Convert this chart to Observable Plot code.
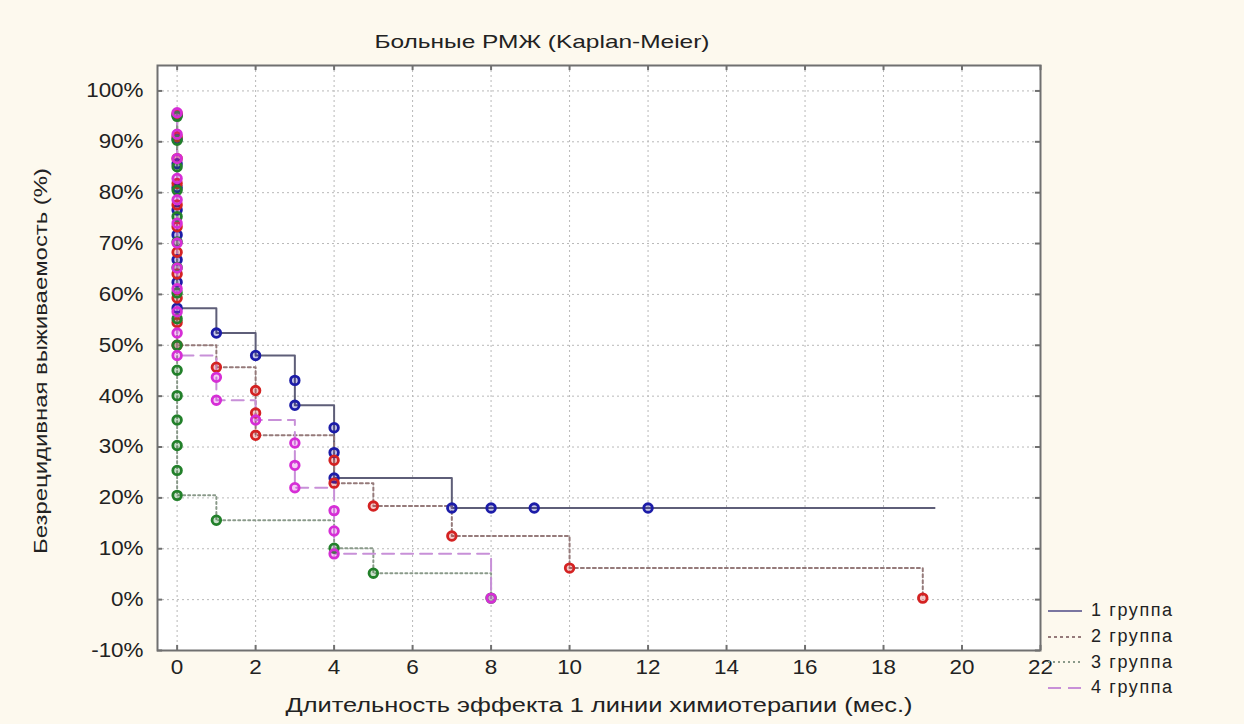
<!DOCTYPE html>
<html><head><meta charset="utf-8">
<script src="https://cdn.jsdelivr.net/npm/d3@7"></script>
<script src="https://cdn.jsdelivr.net/npm/@observablehq/plot@0.6"></script>
<style>
html,body{margin:0;padding:0;background:#fdf9ee;}
#chart{position:relative;width:1244px;height:724px;overflow:hidden;}
#legend{position:absolute;left:1048px;top:598px;font-family:"Liberation Sans",Arial,sans-serif;font-size:18px;color:#222;}
#legend div{height:25.7px;display:flex;align-items:center;}
#legend svg{margin-right:9px;}
</style>
</head><body><div id="chart"><div id="legend"></div></div>
<script>
const title = "Больные РМЖ (Kaplan-Meier)";
const xLabel = "Длительность эффекта 1 линии химиотерапии (мес.)";
const yLabel = "Безрецидивная выживаемость (%)";
const groups = ["1 группа", "2 группа", "3 группа", "4 группа"];
const xTicks = [0, 2, 4, 6, 8, 10, 12, 14, 16, 18, 20, 22];
const yTicks = [-10, 0, 10, 20, 30, 40, 50, 60, 70, 80, 90, 100];

// Group 1
const g1Time = [0, 0, 0, 0, 0, 0, 0, 0, 0, 1, 2, 3, 3, 4, 4, 4, 7, 8, 9.1, 12];
const g1Surv = [95.2, 90.5, 85.7, 81.0, 76.6, 71.7, 66.8, 62.4, 57.3, 52.4, 48.0, 43.1, 38.2, 33.8, 28.9, 23.9, 18.0, 18.0, 18.0, 18.0];
const g1End = 19.3;
// Group 2
const g2Time = [0, 0, 0, 0, 0, 0, 0, 0, 0, 0, 0, 1, 2, 2, 2, 4, 4, 5, 7, 10, 19];
const g2Surv = [95.5, 91.0, 86.7, 81.8, 77.6, 73.3, 68.3, 64.0, 59.3, 54.5, 50.0, 45.7, 41.1, 36.7, 32.3, 27.4, 22.9, 18.4, 12.5, 6.2, 0.3];
const g2End = 19;
// Group 3
const g3Time = [0, 0, 0, 0, 0, 0, 0, 0, 0, 0, 0, 0, 0, 0, 0, 0, 1, 4, 5, 8];
const g3Surv = [95.0, 90.3, 85.1, 80.5, 75.3, 70.3, 65.3, 60.3, 55.2, 50.0, 45.1, 40.1, 35.3, 30.3, 25.4, 20.5, 15.6, 10.1, 5.2, 0.3];
const g3End = 8;
// Group 4
const g4Time = [0, 0, 0, 0, 0, 0, 0, 0, 0, 0, 0, 0, 1, 1, 2, 3, 3, 3, 4, 4, 4, 8];
const g4Surv = [95.7, 91.5, 86.7, 82.8, 78.6, 74.0, 70.1, 65.2, 61.1, 56.6, 52.4, 48.0, 43.7, 39.2, 35.3, 30.8, 26.4, 22.0, 17.5, 13.5, 9.0, 0.3];
const g4End = 8;

const dotColors = ["#1c1ca8", "#d42222", "#22802a", "#d62ed6"];
const lineColors = ["#5e5e78", "#957a7a", "#8a9a8a", "#c890d8"];
const lineDash = [null, "3,3", "2,3", "12,7"];

const series = [[g1Time, g1Surv, g1End], [g2Time, g2Surv, g2End], [g3Time, g3Surv, g3End], [g4Time, g4Surv, g4End]];
const points = [];
const lines = [];
series.forEach(([T, S, end], i) => {
  const pts = T.map((t, j) => ({group: groups[i], t, s: S[j]}));
  points.push(...pts);
  const ln = pts.slice();
  ln.push({group: groups[i], t: end, s: S[S.length - 1]});
  lines.push(ln);
});

const font = "Liberation Sans, Arial, sans-serif";
const plot = Plot.plot({
  width: 1244,
  height: 724,
  marginLeft: 157,
  marginTop: 65,
  marginRight: 204,
  marginBottom: 74,
  style: {background: "transparent", fontFamily: font, color: "#222"},
  x: {domain: [-0.5, 22]},
  y: {domain: [-10, 105]},
  color: {domain: groups, range: dotColors},
  marks: [
    Plot.frame({fill: "white", stroke: "none"}),
    Plot.gridX(xTicks, {stroke: "#b8b8b8", strokeOpacity: 1, strokeDasharray: "2,3"}),
    Plot.gridY(yTicks, {stroke: "#b8b8b8", strokeOpacity: 1, strokeDasharray: "2,3"}),
    ...lines.map((ln, i) => Plot.line(ln, {x: "t", y: "s", curve: "step-after", stroke: lineColors[i], strokeWidth: 2, strokeDasharray: lineDash[i]})),
    Plot.dot(points, {x: "t", y: "s", stroke: "group", r: 4.3, strokeWidth: 2.8, fill: "group", fillOpacity: 0.25}),
    Plot.ruleX(xTicks, {x: d => d, y1: -10, y2: -9, stroke: "#707070", strokeWidth: 2}),
    Plot.ruleX(xTicks, {x: d => d, y1: 105, y2: 104, stroke: "#707070", strokeWidth: 2}),
    Plot.ruleY(yTicks, {y: d => d, x1: -0.5, x2: -0.37, stroke: "#707070", strokeWidth: 2}),
    Plot.ruleY(yTicks, {y: d => d, x1: 22, x2: 21.87, stroke: "#707070", strokeWidth: 2}),
    Plot.frame({stroke: "#707070", strokeWidth: 2}),
    Plot.axisX(xTicks, {anchor: "bottom", tickSize: 0, tickPadding: 9, fontSize: 20, label: null}),
    Plot.axisY(yTicks, {anchor: "left", tickSize: 0, tickPadding: 14, fontSize: 20, label: null, tickFormat: d => d + "%"}),
    Plot.text([title], {text: d => d, frameAnchor: "top", dx: -57, dy: -31, fontSize: 19}),
    Plot.text([xLabel], {text: d => d, frameAnchor: "bottom", dy: 61, fontSize: 20}),
    Plot.text([yLabel], {text: d => d, frameAnchor: "left", dx: -117, dy: 3, rotate: -90, fontSize: 19})
  ]
});
const chart = document.getElementById("chart");
chart.insertBefore(plot, chart.firstChild);
const svg = d3.select(plot);
svg.style("position", "absolute").style("left", "0px").style("top", "0px");

const fixedLengths = new Map([[title, 335], [xLabel, 627], [yLabel, 386]]);
svg.selectAll("text").each(function () {
  const txt = this.textContent;
  if (txt === yLabel) {
    const L = fixedLengths.get(txt);
    this.setAttribute("text-anchor", "start");
    this.setAttribute("x", -L / 2);
    this.setAttribute("textLength", L);
    this.setAttribute("lengthAdjust", "spacingAndGlyphs");
  } else if (fixedLengths.has(txt)) {
    this.setAttribute("textLength", fixedLengths.get(txt));
    this.setAttribute("lengthAdjust", "spacingAndGlyphs");
  } else {
    const w = this.getComputedTextLength();
    if (w > 0) {
      this.setAttribute("textLength", (w * 1.12).toFixed(1));
      this.setAttribute("lengthAdjust", "spacingAndGlyphs");
    }
  }
});

// Legend
const legend = d3.select("#legend");
groups.forEach((g, i) => {
  const row = legend.append("div");
  const s = row.append("svg").attr("width", 34).attr("height", 10);
  s.append("line").attr("x1", 0).attr("x2", 34).attr("y1", 5).attr("y2", 5)
    .attr("stroke", i === 0 ? "#7a76a0" : lineColors[i]).attr("stroke-width", 2)
    .attr("stroke-dasharray", lineDash[i] === "12,7" ? "13,7" : lineDash[i]);
  row.append("span").text(g).style("letter-spacing", "1.6px");
});
</script>
</body></html>
